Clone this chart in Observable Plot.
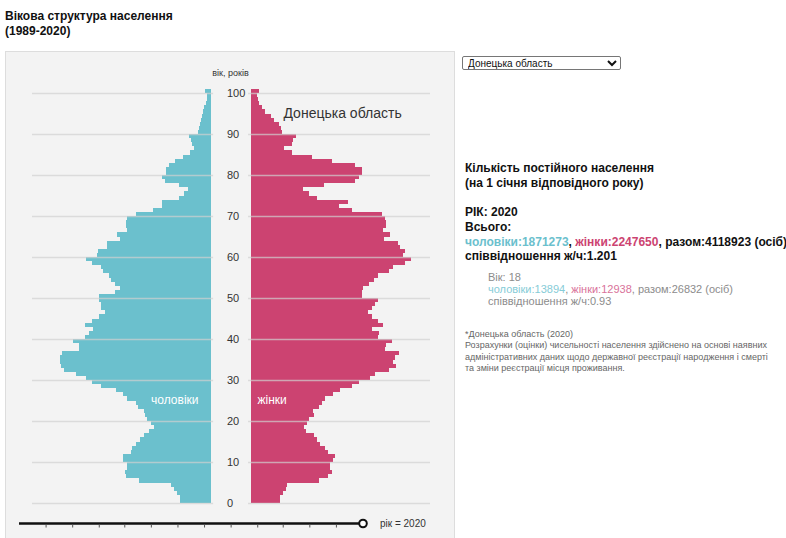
<!DOCTYPE html>
<html>
<head>
<meta charset="utf-8">
<script src="https://cdn.jsdelivr.net/npm/d3@7"></script>
<script src="https://cdn.jsdelivr.net/npm/@observablehq/plot@0.6"></script>
<style>
  body{margin:0;background:#fff;font-family:"Liberation Sans",Arial,sans-serif;width:786px;height:538px;overflow:hidden;position:relative}
  #title{position:absolute;left:5px;top:9px;font-weight:bold;font-size:12px;line-height:15px;color:#111}
  #panel{position:absolute;left:5px;top:51px;width:448px;height:500px;background:#f3f3f3;border:1px solid #ddd}
  #pyr{position:absolute;left:0;top:0}
  #slider{position:absolute;left:0;top:461.3px}
  #sel{position:absolute;left:462px;top:56px;width:159px;height:14px;box-sizing:border-box;font-size:10px;line-height:12px;font-family:"Liberation Sans",Arial,sans-serif;padding:0 0 0 1px;border:1px solid #767676;border-radius:2px;background:#fff;color:#111}
  #info{position:absolute;left:465px;top:161px;font-weight:bold;font-size:12px;line-height:14.7px;color:#111;white-space:nowrap}
  #sub{position:absolute;left:488px;top:270.5px;font-size:11px;line-height:12.3px;color:#8c8c8c;white-space:nowrap}
  #note{position:absolute;left:465px;top:328.7px;font-size:9px;line-height:11.6px;color:#666;white-space:nowrap}
  .m{color:#6bc0cd}.f{color:#cc4371}
  #sub .m{color:#86ccd7}#sub .f{color:#d9729a}
</style>
</head>
<body>
<div id="title">Вікова структура населення<br>(1989-2020)</div>
<div id="panel"><div id="pyr"></div><div id="slider"></div></div>
<select id="sel"><option>Донецька область</option></select>
<div id="info"></div>
<div id="sub"></div>
<div id="note"></div>
<script>
// ---- data (Донецька область, 2020) ----
const region = "Донецька область";
const currentYear = 2020;
const ages = d3.range(0, 101);
const male = [7500,7500,8400,9000,9700,17600,20900,21200,20700,20700,
  21700,21700,19700,19500,18500,17400,16400,15200,13894,14800,
  15700,16200,16400,18000,18500,20500,21700,23400,27100,29300,
  30800,33200,36100,36900,37100,37100,36500,32400,32400,33900,
  31000,29900,28900,30900,29300,27600,26100,26900,27100,27500,
  27600,23500,22300,23500,24600,25000,26400,27100,29300,30600,
  27900,27700,25600,25600,22400,23000,20700,20900,20900,20500,
  18500,14100,11900,11900,7800,6600,5700,7800,11300,12000,
  11100,10900,10300,8900,6700,5100,4100,4700,4900,5300,
  3100,2900,2600,2450,2050,1800,1650,1200,1000,800,1400];
const female = [7100,7100,7800,8600,8900,16600,18900,19800,19400,19300,
  20200,20700,19000,18200,16800,16200,15500,13500,12938,13700,
  14300,15500,15300,16600,17400,18200,20100,21900,24800,26600,
  29300,30500,33800,35700,34900,35400,36400,33000,33200,34600,
  31300,31500,29800,32400,31300,29800,28700,29700,30500,31100,
  27200,27200,27500,29100,30100,31300,33800,34900,37900,39300,
  37300,37900,36500,36200,32600,34200,32400,33200,33200,33000,
  32100,24800,21500,23800,16200,14100,12700,17800,25600,26600,
  27200,27200,25600,19800,14900,10000,8000,10000,10200,11100,
  7500,7400,6900,5500,4900,3400,2600,2000,1600,1400,1800];
const ageTicks = [0,10,20,30,40,50,60,70,80,90,100];
const totals = {male:1871273, female:2247650, all:4118923, ratio:"1.201"};
const selAge = 18;
const selVals = {male:13894, female:12938, all:26832, ratio:"0.93"};
const sliderTicks = [1989,1991.4,1993.8,1996.2,1998.5,2000.9,2003.3,2005.7,2008.1,2010.5,2012.8,2015.2,2017.6,2020];
const noteLines = ["*Донецька область (2020)",
  "Розрахунки (оцінки) чисельності населення здійснено на основі наявних",
  "адміністративних даних щодо державної реєстрації народження і смерті",
  "та зміни реєстрації місця проживання."];

const maleColor = "#6bc0cd", femaleColor = "#cc4371";
const G = 5000, M = 44000;
const data = ages.map((a, i) => ({age: a, male: male[i], female: female[i]}));

const pyr = Plot.plot({
  width: 448, height: 470,
  marginLeft: 26, marginRight: 24, marginTop: 41, marginBottom: 19,
  x: {domain: [-(G + M), G + M], axis: null},
  y: {domain: [0, 100], axis: null},
  style: {background: "transparent", fontFamily: "Liberation Sans, Arial, sans-serif", overflow: "visible"},
  marks: [
    Plot.rect(data, {x1: -G, x2: d => -G - d.male, y1: "age", y2: d => d.age + 1, fill: maleColor, shapeRendering: "crispEdges"}),
    Plot.rect(data, {x1: G, x2: d => G + d.female, y1: "age", y2: d => d.age + 1, fill: femaleColor, shapeRendering: "crispEdges"}),
    Plot.ruleY(ageTicks, {x1: -(G + M), x2: -G + 600, stroke: "#d0d0d0", strokeOpacity: 0.7, strokeWidth: 1.5}),
    Plot.ruleY(ageTicks, {x1: G - 800, x2: G + M, stroke: "#d0d0d0", strokeOpacity: 0.7, strokeWidth: 1.5}),
    Plot.text(ageTicks, {x: 0, y: d => d, text: d => String(d), textAnchor: "start", dx: -4.5, fontSize: 11, fill: "#333"}),
    Plot.text(["вік, років"], {x: 0, y: 105, text: d => d, dx: -1, fontSize: 9, fill: "#333"}),
    Plot.text([region], {x: 12800, y: 95, text: d => d, textAnchor: "start", fontSize: 14, fill: "#333"}),
    Plot.text(["чоловіки"], {x: -8125, y: 25.1, text: d => d, textAnchor: "end", fontSize: 12, fill: "white"}),
    Plot.text(["жінки"], {x: 6400, y: 25.1, text: d => d, textAnchor: "start", fontSize: 12, fill: "white"})
  ]
});
document.getElementById("pyr").appendChild(pyr);

const sl = Plot.plot({
  width: 448, height: 20,
  marginLeft: 13, marginRight: 91.5, marginTop: 0, marginBottom: 0,
  x: {domain: [1989, 2020], axis: null},
  y: {domain: [-1, 1], axis: null},
  style: {background: "transparent", fontFamily: "Liberation Sans, Arial, sans-serif", overflow: "visible"},
  marks: [
    Plot.ruleY([0], {stroke: "#111", strokeWidth: 2.5}),
    Plot.ruleX(sliderTicks.slice(1, -1), {y1: -0.15, y2: -0.45, stroke: "#555", strokeWidth: 1}),
    Plot.dot([currentYear], {x: d => d, y: 0, r: 3.8, fill: "white", stroke: "#111", strokeWidth: 2}),
    Plot.text([currentYear], {x: d => d, y: 0, text: d => `рік = ${d}`, textAnchor: "start", dx: 17, fontSize: 10, fill: "#333"})
  ]
});
document.getElementById("slider").appendChild(sl);

document.getElementById("info").innerHTML =
  "Кількість постійного населення<br>(на 1 січня відповідного року)<br><br>" +
  `РІК: ${currentYear}<br>Всього:<br>` +
  `<span class="m">чоловіки:${totals.male}</span>, <span class="f">жінки:${totals.female}</span>, разом:${totals.all} (осіб)<br>` +
  `співвідношення ж/ч:${totals.ratio}`;
document.getElementById("sub").innerHTML =
  `Вік: ${selAge}<br><span class="m">чоловіки:${selVals.male}</span>, <span class="f">жінки:${selVals.female}</span>, разом:${selVals.all} (осіб)<br>співвідношення ж/ч:${selVals.ratio}`;
document.getElementById("note").innerHTML = noteLines.join("<br>");
</script>
</body>
</html>
